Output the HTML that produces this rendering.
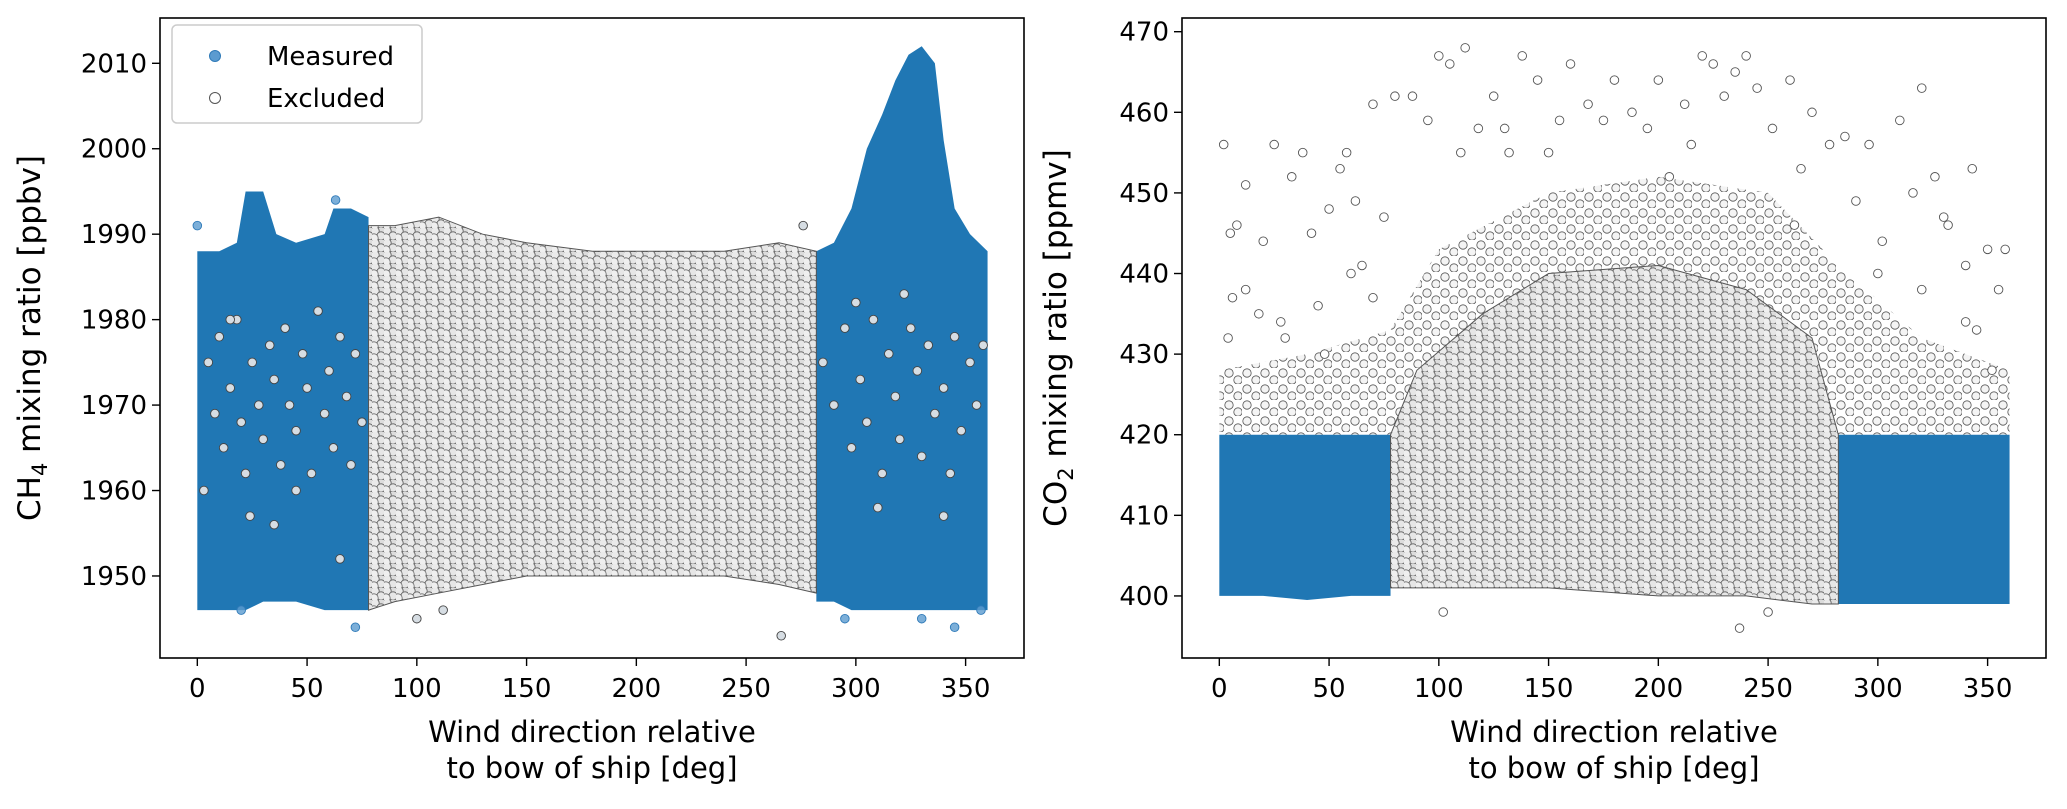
<!DOCTYPE html>
<html><head><meta charset="utf-8"><style>
html,body{margin:0;padding:0;background:#fff}
svg{display:block}
text{font-family:"DejaVu Sans","Liberation Sans",sans-serif;fill:#000}
</style></head><body>
<svg id="chart" width="2067" height="809" viewBox="0 0 2067 809" xmlns="http://www.w3.org/2000/svg">
<defs>
<pattern id="densePat" width="12" height="12" patternUnits="userSpaceOnUse">
<rect width="12" height="12" fill="#dcdcdc"/>
<circle cx="3" cy="3" r="4.2" fill="#eaeaea" stroke="#5a5a5a" stroke-width="0.8"/>
<circle cx="9" cy="8" r="4.2" fill="#e6e6e6" stroke="#5a5a5a" stroke-width="0.8"/>
<circle cx="2" cy="10" r="4.2" fill="#efefef" stroke="#6a6a6a" stroke-width="0.8"/>
</pattern>
<pattern id="sparsePat" width="18" height="16" patternUnits="userSpaceOnUse">
<circle cx="5" cy="5" r="4.2" fill="#f4f4f4" stroke="#555" stroke-width="0.8"/>
<circle cx="14" cy="12" r="4.2" fill="#f4f4f4" stroke="#555" stroke-width="0.8"/>
</pattern>
</defs>
<g id="p1"></g>
<g id="p2"></g>
</svg>
<script>
// ---- shared ----
const xTicks = [0, 50, 100, 150, 200, 250, 300, 350];
// ---- CH4 panel data ----
const ch4YTicks = [1950, 1960, 1970, 1980, 1990, 2000, 2010];
const ch4BlueLeftX = [0, 10, 18, 22, 30, 36, 45, 58, 62, 70, 78];
const ch4BlueLeftTop = [1988, 1988, 1989, 1995, 1995, 1990, 1989, 1990, 1993, 1993, 1992];
const ch4BlueLeftBot = [1946, 1946, 1946, 1946, 1947, 1947, 1947, 1946, 1946, 1946, 1946];
const ch4BlueRightX = [282, 290, 298, 305, 312, 318, 324, 330, 336, 340, 345, 352, 360];
const ch4BlueRightTop = [1988, 1989, 1993, 2000, 2004, 2008, 2011, 2012, 2010, 2001, 1993, 1990, 1988];
const ch4BlueRightBot = [1947, 1947, 1946, 1946, 1946, 1946, 1946, 1946, 1946, 1946, 1946, 1946, 1946];
const ch4GrayX = [78, 90, 110, 130, 150, 180, 210, 240, 265, 282];
const ch4GrayTop = [1991, 1991, 1992, 1990, 1989, 1988, 1988, 1988, 1989, 1988];
const ch4GrayBot = [1946, 1947, 1948, 1949, 1950, 1950, 1950, 1950, 1949, 1948];
const ch4ExclX = [5,8,10,12,15,18,20,22,25,28,30,33,35,38,40,42,45,48,50,52,55,58,60,62,65,68,70,72,75,24,35,3,15,45,65,285,290,295,298,302,305,308,312,315,318,320,325,328,330,333,336,340,343,345,348,352,355,358,300,322,310,340,100,112,266,276];
const ch4ExclY = [1975,1969,1978,1965,1972,1980,1968,1962,1975,1970,1966,1977,1973,1963,1979,1970,1967,1976,1972,1962,1981,1969,1974,1965,1978,1971,1963,1976,1968,1957,1956,1960,1980,1960,1952,1975,1970,1979,1965,1973,1968,1980,1962,1976,1971,1966,1979,1974,1964,1977,1969,1972,1962,1978,1967,1975,1970,1977,1982,1983,1958,1957,1945,1946,1943,1991];
const ch4MeasX = [0, 20, 72, 345, 330, 63, 357, 295];
const ch4MeasY = [1991, 1946, 1944, 1944, 1945, 1994, 1946, 1945];
// ---- CO2 panel data ----
const co2YTicks = [400, 410, 420, 430, 440, 450, 460, 470];
const co2BlueLeftX = [0, 20, 40, 60, 78];
const co2BlueLeftTop = [420, 420, 420, 420, 420];
const co2BlueLeftBot = [400, 400, 399.5, 400, 400];
const co2BlueRightX = [282, 300, 320, 340, 360];
const co2BlueRightTop = [420, 420, 420, 420, 420];
const co2BlueRightBot = [399, 399, 399, 399, 399];
const co2SparseX = [0, 40, 78, 100, 150, 200, 250, 282, 320, 360];
const co2SparseTop = [428, 430, 433, 443, 450, 452, 450, 441, 432, 428];
const co2DenseX = [78, 90, 120, 150, 200, 240, 270, 282];
const co2DenseTop = [420, 428, 435, 440, 441, 438, 432, 420];
const co2DenseBot = [401, 401, 401, 401, 400, 400, 399, 399];
const co2OutX = [2,5,8,12,20,25,28,33,38,42,45,50,55,58,62,65,70,75,80,88,95,100,105,112,118,125,132,138,145,150,155,160,168,175,180,188,195,200,205,212,220,225,230,235,240,245,252,260,265,270,278,285,290,296,302,310,316,320,326,332,340,343,350,355,358,12,30,60,48,340,300,320,352,102,237,250,6,18,70,110,130,215,262,330,345,4];
const co2OutY = [456,445,446,451,444,456,434,452,455,445,436,448,453,455,449,441,461,447,462,462,459,467,466,468,458,462,455,467,464,455,459,466,461,459,464,460,458,464,452,461,467,466,462,465,467,463,458,464,453,460,456,457,449,456,444,459,450,463,452,446,441,453,443,438,443,438,432,440,430,434,440,438,428,398,396,398,437,435,437,455,458,456,446,447,433,432];

function makeScale(d0, d1, r0, r1){ return v => r0 + (v - d0) * (r1 - r0) / (d1 - d0); }
const NS = 'http://www.w3.org/2000/svg';
function el(tag, attrs, parent){ const e = document.createElementNS(NS, tag); for (const k in attrs) e.setAttribute(k, attrs[k]); parent.appendChild(e); return e; }

function band(g, xs, top, bot, X, Y, fill){
  let pts = xs.map((x,i)=> X(x)+','+Y(top[i]));
  for (let i = xs.length-1; i >= 0; i--) pts.push(X(xs[i])+','+Y(bot[i]));
  return el('polygon', {points: pts.join(' '), fill: fill}, g);
}

function panel(gid, L, R, T, B, yMin, yMax, yTicks, ylabel, sub, unit, labelX){
  const g = document.getElementById(gid);
  const X = makeScale(-17, 376.6, L, R);
  const Y = makeScale(yMin, yMax, B, T);
  return {g, X, Y, finish(){
    const fr = el('rect', {x:L, y:T, width:R-L, height:B-T, fill:'none', stroke:'#000', 'stroke-width':1.6}, g);
    
    
    xTicks.forEach(t => {
      const tl = el('line', {x1:X(t), x2:X(t), y1:B, y2:B+8, stroke:'#000', 'stroke-width':1.4}, g);
      
      
      const tx = el('text', {x:X(t), y:B+39, 'text-anchor':'middle', 'font-size':26}, g);
      tx.textContent = t;
      
      
    });
    yTicks.forEach(t => {
      const tl = el('line', {x1:L-8, x2:L, y1:Y(t), y2:Y(t), stroke:'#000', 'stroke-width':1.4}, g);
      
      
      const tx = el('text', {x:L-13, y:Y(t)+9, 'text-anchor':'end', 'font-size':26}, g);
      tx.textContent = t;
      
      
    });
    const cx = (L+R)/2;
    const xl = el('text', {x:cx, y:742, 'text-anchor':'middle', 'font-size':29}, g);
    xl.innerHTML = '<tspan x="'+cx+'">Wind direction relative</tspan><tspan x="'+cx+'" dy="36">to bow of ship [deg]</tspan>';
    
    
    const cy = (T+B)/2;
    const yl = el('text', {x:labelX, y:cy, 'text-anchor':'middle', 'font-size':31, transform:'rotate(-90 '+labelX+' '+cy+')'}, g);
    yl.innerHTML = ylabel + '<tspan font-size="21" dy="7">' + sub + '</tspan><tspan dy="-7"> ' + unit + '</tspan>';
    
    
  }};
}

function dots(g, xs, ys, X, Y, fill, stroke, name, op){
  xs.forEach((x,i) => {
    const c = el('circle', {cx:X(x), cy:Y(ys[i]), r:4.3, fill:fill, stroke:stroke, 'stroke-width':0.9, 'fill-opacity':op}, g);
    
    
  });
}

// ---- CH4 ----
(function(){
  const p = panel('p1', 160, 1024, 18, 658, 1940.4, 2015.3, ch4YTicks, 'CH', '4', 'mixing ratio [ppbv]', 40);
  const {g, X, Y} = p;
  const b1 = band(g, ch4BlueLeftX, ch4BlueLeftTop, ch4BlueLeftBot, X, Y, '#2077b4');
  
  
  const b2 = band(g, ch4BlueRightX, ch4BlueRightTop, ch4BlueRightBot, X, Y, '#2077b4');
  
  
  const gr = band(g, ch4GrayX, ch4GrayTop, ch4GrayBot, X, Y, 'url(#densePat)');
  gr.setAttribute('stroke', '#555');
  
  
  dots(g, ch4MeasX, ch4MeasY, X, Y, '#5b9bd0', '#2f7ab8', 'ch4-measured-point', 0.8);
  dots(g, ch4ExclX, ch4ExclY, X, Y, '#d6dde3', '#444', 'ch4-excluded-point', 1);
  p.finish();
  const lg = el('g', {}, g);
  
  
  el('rect', {x:172, y:25, width:250, height:98, rx:5, fill:'#fff', 'fill-opacity':0.85, stroke:'#ccc', 'stroke-width':1.5}, lg);
  const m1 = el('circle', {cx:215, cy:56, r:5.5, fill:'#5b9bd0', stroke:'#2f7ab8', 'stroke-width':1}, lg);
  
  
  const t1 = el('text', {x:267, y:65, 'font-size':26}, lg); t1.textContent = 'Measured';
  
  
  const m2 = el('circle', {cx:215, cy:98, r:5.5, fill:'#fff', stroke:'#555', 'stroke-width':1}, lg);
  
  
  const t2 = el('text', {x:267, y:107, 'font-size':26}, lg); t2.textContent = 'Excluded';
  
  
})();

// ---- CO2 ----
(function(){
  const p = panel('p2', 1182, 2046, 18, 658, 392.3, 471.7, co2YTicks, 'CO', '2', 'mixing ratio [ppmv]', 1066);
  const {g, X, Y} = p;
  const floor = co2SparseX.map(() => 420);
  const sp = band(g, co2SparseX, co2SparseTop, floor, X, Y, 'url(#sparsePat)');
  
  
  const b1 = band(g, co2BlueLeftX, co2BlueLeftTop, co2BlueLeftBot, X, Y, '#2077b4');
  
  
  const b2 = band(g, co2BlueRightX, co2BlueRightTop, co2BlueRightBot, X, Y, '#2077b4');
  
  
  const gr = band(g, co2DenseX, co2DenseTop, co2DenseBot, X, Y, 'url(#densePat)');
  gr.setAttribute('stroke', '#555');
  
  
  dots(g, co2OutX, co2OutY, X, Y, '#fff', '#555', 'co2-excluded-point', 1);
  p.finish();
})();
</script>
</body></html>
